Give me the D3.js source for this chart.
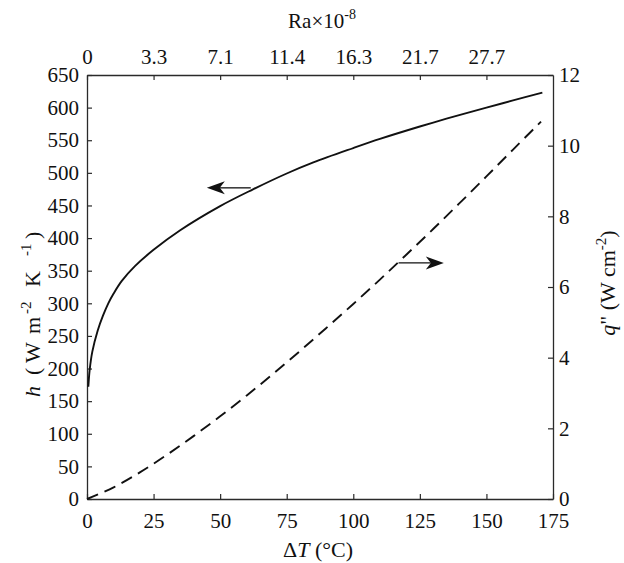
<!DOCTYPE html>
<html>
<head>
<meta charset="utf-8">
<script src="https://cdn.jsdelivr.net/npm/d3@7"></script>
<style>
  html, body { margin: 0; padding: 0; background: #fff; }
</style>
</head>
<body>
<svg id="chart" width="624" height="563"></svg>
<script>
// Heat transfer coefficient h (left axis) versus temperature difference
const hDeltaT = [0.5, 1, 2, 4, 6, 8, 10, 13, 18, 25, 35, 50, 62, 75, 85, 100, 110, 125, 135, 150, 160, 171];
const hValues = [172, 198, 226, 258, 281, 300, 315, 334, 357, 382, 412, 449, 474, 499, 516, 538, 552, 571, 583, 600, 611, 623];

// Heat flux q'' (right axis) versus temperature difference
const qDeltaT = [0, 10, 20, 30, 40, 50, 60, 70, 80, 90, 100, 110, 120, 130, 140, 150, 160, 170.5];
const qValues = [0, 0.33, 0.76, 1.25, 1.78, 2.34, 2.93, 3.55, 4.19, 4.85, 5.52, 6.21, 6.92, 7.64, 8.38, 9.13, 9.89, 10.68];

// Tick values
const bottomTicks = [0, 25, 50, 75, 100, 125, 150, 175];
const topTickPositions = [0, 25, 50, 75, 100, 125, 150];
const topTickLabels = ["0", "3.3", "7.1", "11.4", "16.3", "21.7", "27.7"];
const leftTicks = [0, 50, 100, 150, 200, 250, 300, 350, 400, 450, 500, 550, 600, 650];
const rightTicks = [0, 2, 4, 6, 8, 10, 12];

// Direction arrows pointing each curve to its axis: [fromΔT, toΔT, value]
const hArrow = [61.5, 45, 477];
const qArrow = [117, 134, 6.68];

const FONT = "Liberation Serif";
const svg = d3.select("#chart").attr("font-family", FONT).style("font-family", FONT);
const x0 = 87, x1 = 553, y0 = 499, y1 = 75;

const x = d3.scaleLinear().domain([0, 175]).range([x0, x1]);
const yH = d3.scaleLinear().domain([0, 650]).range([y0, y1]);
const yQ = d3.scaleLinear().domain([0, 12]).range([y0, y1]);

const axisColor = "#2a2a2a";
const tickLen = 5;
const fontSize = 21;

const g = svg.append("g");

function styleAxis(sel) {
  sel.attr("font-family", FONT).attr("font-size", fontSize);
  sel.select(".domain").attr("stroke", axisColor).attr("stroke-width", 1.3);
  sel.selectAll(".tick line").attr("stroke", axisColor).attr("stroke-width", 1.2);
  sel.selectAll(".tick text")
    .attr("font-family", FONT).style("font-family", FONT)
    .style("font-size", fontSize + "px").attr("fill", "#111");
}

// Bottom axis (ticks pointing inward)
g.append("g").attr("transform", `translate(0,${y0})`)
  .call(d3.axisBottom(x).tickValues(bottomTicks).tickSizeInner(-tickLen).tickSizeOuter(0).tickPadding(14))
  .call(styleAxis);

// Top axis carrying the Rayleigh number labels
g.append("g").attr("transform", `translate(0,${y1})`)
  .call(d3.axisTop(x).tickValues(topTickPositions)
        .tickFormat((d, i) => topTickLabels[i]).tickSizeInner(-tickLen).tickSizeOuter(0).tickPadding(11))
  .call(styleAxis);

// Left axis: h
g.append("g").attr("transform", `translate(${x0},0)`)
  .call(d3.axisLeft(yH).tickValues(leftTicks).tickSizeInner(-tickLen).tickSizeOuter(0).tickPadding(8))
  .call(styleAxis);

// Right axis: q''
g.append("g").attr("transform", `translate(${x1},0)`)
  .call(d3.axisRight(yQ).tickValues(rightTicks).tickSizeInner(-tickLen).tickSizeOuter(0).tickPadding(6))
  .call(styleAxis);

// Curves
const hLine = d3.line().x((d, i) => x(hDeltaT[i])).y(d => yH(d)).curve(d3.curveCatmullRom.alpha(0.5));
const qLine = d3.line().x((d, i) => x(qDeltaT[i])).y(d => yQ(d)).curve(d3.curveCatmullRom.alpha(0.5));

g.append("path").attr("d", hLine(hValues))
  .attr("fill", "none").attr("stroke", "#111").attr("stroke-width", 1.9);

g.append("path").attr("d", qLine(qValues))
  .attr("fill", "none").attr("stroke", "#111").attr("stroke-width", 1.9)
  .attr("stroke-dasharray", "12,7");

// Arrows
function arrow(xa, xb, yv) {
  const dir = Math.sign(xb - xa);
  const headLen = 18, half = 6.5, notch = 5;
  g.append("line").attr("x1", xa).attr("x2", xb - dir * (headLen - notch)).attr("y1", yv).attr("y2", yv)
    .attr("stroke", "#111").attr("stroke-width", 1.3);
  const p = d3.path();
  p.moveTo(xb, yv);
  p.lineTo(xb - dir * headLen, yv - half);
  p.lineTo(xb - dir * (headLen - notch), yv);
  p.lineTo(xb - dir * headLen, yv + half);
  p.closePath();
  g.append("path").attr("d", p.toString()).attr("fill", "#111");
}
arrow(x(hArrow[0]), x(hArrow[1]), yH(hArrow[2]));
arrow(x(qArrow[0]), x(qArrow[1]), yQ(qArrow[2]));

// Axis titles
function titleText(sel, size) {
  return sel.append("text").attr("font-family", FONT).style("font-family", FONT)
    .style("font-size", size + "px").attr("fill", "#111");
}

const bottomTitle = titleText(svg, 22).attr("x", 318).attr("y", 557).attr("text-anchor", "middle");
bottomTitle.append("tspan").text("Δ");
bottomTitle.append("tspan").style("font-style", "italic").text("T");
bottomTitle.append("tspan").text(" (°C)");

const topTitle = titleText(svg, 21).attr("x", 322).attr("y", 28).attr("text-anchor", "middle");
topTitle.append("tspan").text("Ra×10");
topTitle.append("tspan").attr("dy", -9).style("font-size", "14px").text("-8");

// Left title, laid out piece by piece along the rotated baseline
const leftTitle = titleText(svg, 22).attr("transform", "translate(40,397) rotate(-90)");
const leftPieces = [
  { t: "h", at: 0, sup: false, it: true },
  { t: "(", at: 22, sup: false },
  { t: "W", at: 34, sup: false },
  { t: "m", at: 63, sup: false },
  { t: "-2", at: 83, sup: true },
  { t: "K", at: 110, sup: false },
  { t: "-1", at: 141, sup: true },
  { t: ")", at: 158, sup: false }
];
leftPieces.forEach(p => {
  const ts = leftTitle.append("tspan").attr("x", p.at).attr("y", p.sup ? -9 : 0).text(p.t);
  if (p.sup) ts.style("font-size", "15px");
  if (p.it) ts.style("font-style", "italic");
});

const rightTitle = titleText(svg, 22).attr("transform", "translate(615,283) rotate(-90)").attr("text-anchor", "middle");
rightTitle.append("tspan").style("font-style", "italic").text("q");
rightTitle.append("tspan").text("\" (W cm");
rightTitle.append("tspan").attr("dy", -9).style("font-size", "15px").text("-2");
rightTitle.append("tspan").attr("dy", 9).text(")");
</script>
</body>
</html>
